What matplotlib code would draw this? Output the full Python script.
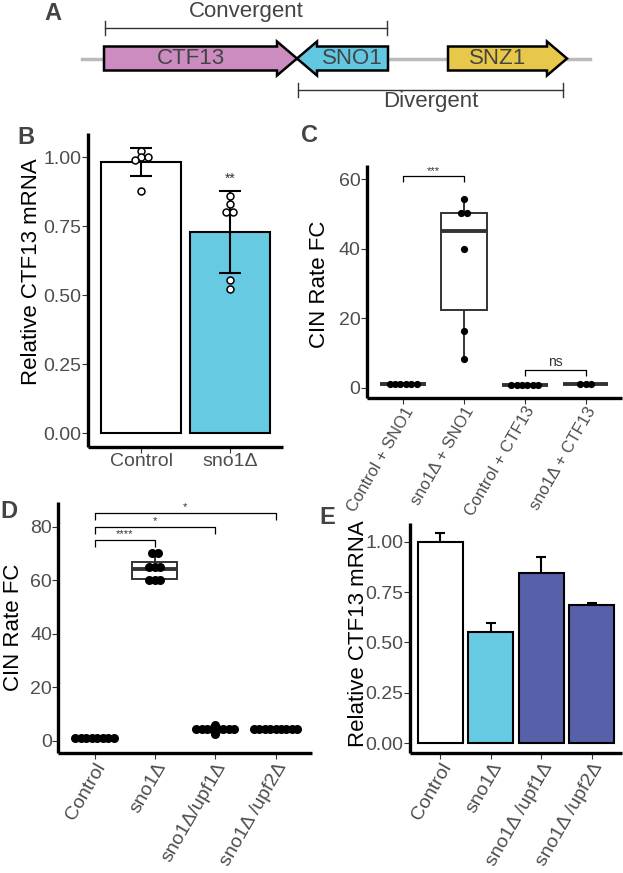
import matplotlib
matplotlib.use('Agg')
import matplotlib.pyplot as plt
import numpy as np
from matplotlib.patches import Polygon

plt.rcParams['font.family'] = ['Liberation Sans', 'DejaVu Sans']

# ---------------- data ----------------
# Panel A (gene map)
gene_names = ["CTF13", "SNO1", "SNZ1"]
gene_colors = ["#CC8CC0", "#62C8E2", "#E8C84A"]

# Panel B
b_labels = ["Control", "sno1\u0394"]
b_means = [0.982, 0.728]
b_sd = [0.052, 0.150]
b_points = [[1.02, 1.00, 1.00, 0.99, 0.877],
            [0.859, 0.830, 0.802, 0.802, 0.554, 0.521]]
b_colors = ["white", "#67CAE3"]
b_sig = "**"

# Panel C
c_labels = ["Control + SNO1", "sno1\u0394 + SNO1", "Control + CTF13", "sno1\u0394 + CTF13"]
c_values = [[1.0, 1.0, 1.0, 1.0, 1.0, 1.0],
            [54.3, 50.4, 50.4, 40.0, 16.4, 8.2],
            [0.9, 0.9, 0.9, 0.9, 0.9, 0.9],
            [1.0, 1.0, 1.0]]
c_comparisons = [(1, 2), (3, 4)]
c_sig_labels = ["***", "ns"]
c_sig_y = [60.8, 5.1]

# Panel D
d_labels = ["Control", "sno1\u0394", "sno1\u0394/upf1\u0394", "sno1\u0394 /upf2\u0394"]
d_values = [[1.0, 1.0, 1.0, 1.0, 1.0, 1.0, 1.0, 1.0],
            [59.8, 60.0, 60.6, 64.2, 64.4, 65.6, 69.8, 70.4],
            [2.6, 4.2, 4.2, 4.2, 4.2, 4.2, 4.2, 4.2, 4.2, 6.0],
            [4.5, 4.5, 4.5, 4.5, 4.5, 4.5, 4.5, 4.5, 4.5]]
d_comparisons = [(1, 2), (1, 3), (1, 4)]
d_sig_labels = ["****", "*", "*"]
d_sig_y = [75.0, 79.8, 85.0]

# Panel E
e_labels = ["Control", "sno1\u0394", "sno1\u0394 /upf1\u0394", "sno1\u0394 /upf2\u0394"]
e_means = [1.0, 0.553, 0.846, 0.686]
e_err = [0.044, 0.042, 0.078, 0.011]
e_colors = ["white", "#67CAE3", "#5661A9", "#5661A9"]

# ---------------- figure ----------------
W, H = 623, 873
fig = plt.figure(figsize=(W / 100, H / 100), dpi=100)

GREY_TXT = '#4D4D4D'
LETTER_C = '#444444'


def add_ax(l, t, r, b):
    return fig.add_axes([l / W, 1 - b / H, (r - l) / W, (b - t) / H])


def style(ax):
    for s in ['top', 'right']:
        ax.spines[s].set_visible(False)
    for s in ['left', 'bottom']:
        ax.spines[s].set_linewidth(2.4)
        ax.spines[s].set_color('black')
        ax.spines[s].set_capstyle('butt')
    ax.tick_params(axis='both', length=4, width=0.8, color='#333333',
                   labelcolor=GREY_TXT, labelsize=14, pad=0.5)
    ax.set_facecolor('none')


def dot_layout(vals, binw, step, center=True):
    v = np.asarray(vals, float)
    order = np.argsort(v, kind='stable')
    xs = np.zeros(len(v))
    ys = v.copy()
    i = 0
    while i < len(order):
        j = i
        while j + 1 < len(order) and v[order[j + 1]] - v[order[i]] <= binw:
            j += 1
        idx = order[i:j + 1]
        n = len(idx)
        xs[idx] = (np.arange(n) - (n - 1) / 2) * step
        if center:
            ys[idx] = v[idx].mean()
        i = j + 1
    return xs, ys


def bracket(ax, x1, x2, y, tip, label, fs, dy):
    ax.plot([x1, x1, x2, x2], [y - tip, y, y, y - tip], color='black', lw=0.9,
            solid_capstyle='butt', zorder=4)
    ax.text((x1 + x2) / 2, y + dy, label, ha='center', va='bottom',
            fontsize=fs, color='#333333')


def ptext(x, y, s, **kw):
    fig.text(x / W, 1 - y / H, s, **kw)


# ---------------- Panel A ----------------
axA = add_ax(0, 0, W, 120)
axA.set_xlim(0, W)
axA.set_ylim(120, 0)
axA.axis('off')
yc = 58.5
axA.plot([82, 590], [yc, yc], color='#BBBBBB', lw=2.5, zorder=1)
gene_spans = [(104, 297, 1), (297, 388, -1), (448, 567, 1)]
head, bh, hh = 20, 12, 17
for (l, r, d), name, col in zip(gene_spans, gene_names, gene_colors):
    if d > 0:
        pts = [(l, yc - bh), (r - head, yc - bh), (r - head, yc - hh), (r, yc),
               (r - head, yc + hh), (r - head, yc + bh), (l, yc + bh)]
    else:
        pts = [(r, yc - bh), (l + head, yc - bh), (l + head, yc - hh), (l, yc),
               (l + head, yc + hh), (l + head, yc + bh), (r, yc + bh)]
    axA.add_patch(Polygon(pts, closed=True, facecolor=col, edgecolor='black',
                          lw=1.8, joinstyle='miter', zorder=2))
    tx = (l + r - d * head) / 2 if d > 0 else (l + head + r) / 2
    axA.text(tx, yc, name, ha='center', va='center', fontsize=16, color='#444444', zorder=3)

# brackets
for (x1, x2, yb, ty, lab) in [(105, 387, 27.5, 12, "Convergent"), (298, 563, 89.5, 101, "Divergent")]:
    axA.plot([x1, x2], [yb, yb], color='#333333', lw=1.0)
    axA.plot([x1, x1], [yb - 7, yb + 7], color='#333333', lw=1.0)
    axA.plot([x2, x2], [yb - 7, yb + 7], color='#333333', lw=1.0)
    axA.text((x1 + x2) / 2, ty, lab, ha='center', va='center', fontsize=16, color='#444444')

# ---------------- Panel B ----------------
axB = add_ax(88, 133, 283, 447)
style(axB)
bx = np.arange(1, len(b_labels) + 1)
axB.bar(bx, b_means, width=0.9, color=b_colors, edgecolor='black', lw=1.5, zorder=2)
axB.vlines(bx, np.array(b_means) - b_sd, np.array(b_means) + b_sd, color='black', lw=1.5, zorder=3)
axB.hlines(np.array(b_means) + b_sd, bx - 0.125, bx + 0.125, color='black', lw=1.5, zorder=3)
axB.hlines(np.array(b_means) - b_sd, bx - 0.125, bx + 0.125, color='black', lw=1.5, zorder=3)
for xi, pts in zip(bx, b_points):
    xs, ys = dot_layout(pts, 0.015, 0.075, center=False)
    axB.plot(xi + xs, ys, 'o', mfc='white', mec='black', mew=1.1, ms=5, zorder=4)
axB.text(2, max(b_points[1]) + 0.035, b_sig, ha='center', va='bottom', fontsize=10, color='#333333')
axB.set_xlim(0.4, 2.6)
axB.set_ylim(-0.0507, 1.087)
axB.set_yticks([0, 0.25, 0.5, 0.75, 1.0])
axB.set_yticklabels(["0.00", "0.25", "0.50", "0.75", "1.00"])
axB.set_xticks(bx)
axB.set_xticklabels(b_labels)

# ---------------- boxplot helper ----------------
def box_panel(ax, values, binw, step, ms):
    pos = np.arange(1, len(values) + 1)
    ax.boxplot(values, positions=pos, widths=0.75, whis=1.5, showfliers=False,
               showcaps=False, patch_artist=True,
               boxprops=dict(facecolor='white', edgecolor='#333333', linewidth=1.4),
               medianprops=dict(color='#333333', linewidth=2.8),
               whiskerprops=dict(color='#333333', linewidth=1.4))
    for p, vals in zip(pos, values):
        xs, ys = dot_layout(vals, binw, step, center=True)
        ax.plot(p + xs, ys, 'o', color='black', ms=ms, mew=0, zorder=5)
    return pos


# ---------------- Panel C ----------------
axC = add_ax(366.7, 165, 622, 398)
style(axC)
cpos = box_panel(axC, c_values, 1.0, 0.088, 5.2)
for (a, b), lab, yy in zip(c_comparisons, c_sig_labels, c_sig_y):
    bracket(axC, a, b, yy, 1.6, lab, 8 if lab != "ns" else 10, 0.2)
axC.set_xlim(0.4, 4.6)
axC.set_ylim(-2.97, 64.1)
axC.set_yticks([0, 20, 40, 60])
axC.set_xticks(cpos)
axC.set_xticklabels(c_labels, rotation=60, ha='right', va='top', rotation_mode='anchor',
                    fontsize=12)

# ---------------- Panel D ----------------
axD = add_ax(58.3, 501.7, 311.7, 753.3)
style(axD)
dpos = box_panel(axD, d_values, 1.5, 0.09, 6.5)
for (a, b), lab, yy in zip(d_comparisons, d_sig_labels, d_sig_y):
    bracket(axD, a, b, yy, 2.5, lab, 8, 0.3)
axD.set_xlim(0.4, 4.6)
axD.set_ylim(-4.7, 89.3)
axD.set_yticks([0, 20, 40, 60, 80])
axD.set_xticks(dpos)
axD.set_xticklabels(d_labels, rotation=60, ha='right', va='top', rotation_mode='anchor',
                    fontsize=14)

# ---------------- Panel E ----------------
axE = add_ax(410, 523.3, 622, 753.3)
style(axE)
ex = np.arange(1, len(e_labels) + 1)
em = np.array(e_means)
ee = np.array(e_err)
axE.vlines(ex, em - ee, em + ee, color='black', lw=1.5, zorder=1)
axE.hlines(em + ee, ex - 0.1, ex + 0.1, color='black', lw=1.5, zorder=1)
axE.bar(ex, em, width=0.9, color=e_colors, edgecolor='black', lw=1.5, zorder=2)
axE.set_xlim(0.4, 4.6)
axE.set_ylim(-0.0496, 1.091)
axE.set_yticks([0, 0.25, 0.5, 0.75, 1.0])
axE.set_yticklabels(["0.00", "0.25", "0.50", "0.75", "1.00"])
axE.set_xticks(ex)
axE.set_xticklabels(e_labels, rotation=60, ha='right', va='top', rotation_mode='anchor',
                    fontsize=14)

# ---------------- axis titles & panel letters ----------------
ptext(32, 272, "Relative CTF13 mRNA", rotation=90, ha='center', va='center', fontsize=16)
ptext(320, 284, "CIN Rate FC", rotation=90, ha='center', va='center', fontsize=16)
ptext(14, 627, "CIN Rate FC", rotation=90, ha='center', va='center', fontsize=16)
ptext(358, 634, "Relative CTF13 mRNA", rotation=90, ha='center', va='center', fontsize=16)

for lab, x, y in [("A", 53, 13), ("B", 26, 137), ("C", 310, 136), ("D", 9, 512), ("E", 327, 518)]:
    ptext(x, y, lab, ha='center', va='center', fontsize=17, fontweight='bold', color=LETTER_C)

fig.savefig('out.png', dpi=100)
